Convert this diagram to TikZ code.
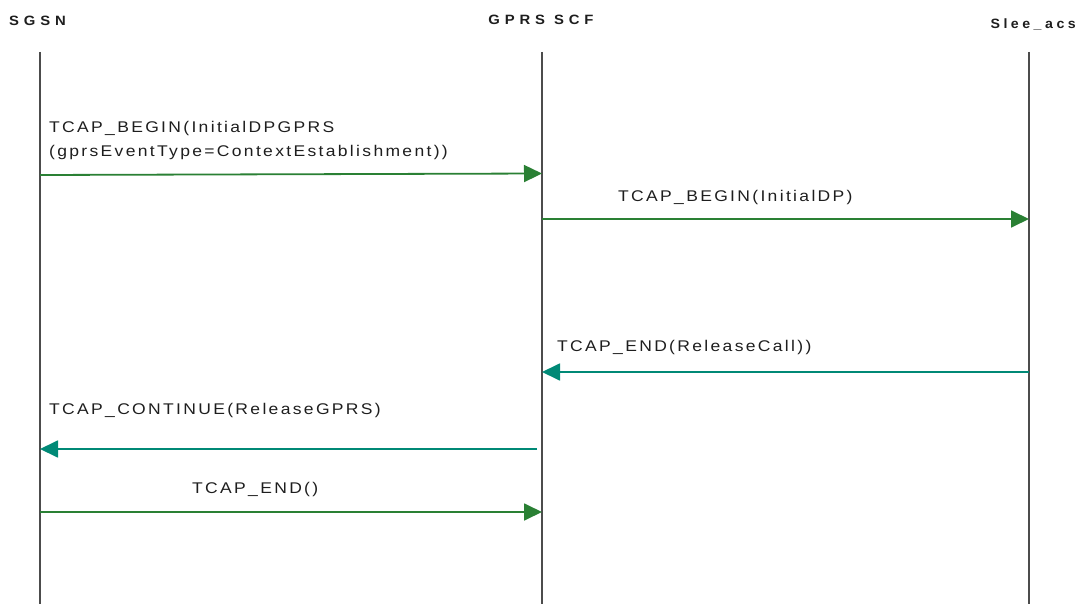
\documentclass[tikz,border=0pt]{standalone}
\usepackage{fontspec}
\setmainfont{Liberation Sans}
\newfontfamily\msgfont[LetterSpace=15,FakeStretch=1.13]{Liberation Sans}
\newfontfamily\hdrfont[LetterSpace=36,FakeStretch=1.1]{Liberation Sans Bold}
\newfontfamily\hdrfontb[LetterSpace=26,FakeStretch=1.05]{Liberation Sans Bold}
\usetikzlibrary{arrows.meta}
\definecolor{fwdgreen}{RGB}{42,128,52}
\definecolor{backteal}{RGB}{0,137,118}
\definecolor{txt}{RGB}{30,30,30}
\tikzset{
  lifeline/.style={line width=1.1pt, draw=black!70},
  hdr/.style={font=\hdrfont\fontsize{13.5}{15}\selectfont, text=txt, inner sep=0pt},
  hdrb/.style={font=\hdrfontb\fontsize{13.5}{15}\selectfont, text=txt, inner sep=0pt},
  lbl/.style={font=\msgfont\fontsize{15.5}{17}\selectfont, text=txt, inner sep=0pt, anchor=base west},
  fwd/.style={draw=fwdgreen, line width=1.8pt, -{Triangle[length=18pt,width=17pt]}},
  back/.style={draw=backteal, line width=1.8pt, -{Triangle[length=18pt,width=17pt]}}
}
\begin{document}
\begin{tikzpicture}[x=1pt,y=-1pt]
\useasboundingbox (0,0) rectangle (1079,604);
% headers
\node[hdr, anchor=base west] (hSGSN) at (9,26) {SGSN};
\node[hdr, anchor=base] (hSCF) at (541,25) {GPRS SCF};
\node[hdrb, anchor=base east] (hSLEE) at (1076,29) {Slee\_acs};
% lifelines
\coordinate (aT) at (40,52);  \coordinate (aB) at (40,604);
\coordinate (bT) at (542,52); \coordinate (bB) at (542,604);
\coordinate (cT) at (1029,52);\coordinate (cB) at (1029,604);
\draw[lifeline] (aT) -- (aB);
\draw[lifeline] (bT) -- (bB);
\draw[lifeline] (cT) -- (cB);
% message endpoints
\coordinate (m1s) at (40,175);  \coordinate (m1e) at (542,173.5);
\coordinate (m2s) at (542,219); \coordinate (m2e) at (1029,219);
\coordinate (m3s) at (1029,372);\coordinate (m3e) at (542,372);
\coordinate (m4s) at (537,449); \coordinate (m4e) at (40,449);
\coordinate (m5s) at (40,512);  \coordinate (m5e) at (542,512);
\draw[fwd] (m1s) -- (m1e);
\draw[fwd] (m2s) -- (m2e);
\draw[back] (m3s) -- (m3e);
\draw[back] (m4s) -- (m4e);
\draw[fwd] (m5s) -- (m5e);
% labels
\node[lbl] (l1a) at (49,133) {TCAP\_BEGIN(InitialDPGPRS};
\node[lbl] (l1b) at (49,157) {(gprsEventType=ContextEstablishment))};
\node[lbl] (l2) at (618,202) {TCAP\_BEGIN(InitialDP)};
\node[lbl] (l3) at (557,351) {TCAP\_END(ReleaseCall))};
\node[lbl] (l4) at (49,414) {TCAP\_CONTINUE(ReleaseGPRS)};
\node[lbl] (l5) at (192,493) {TCAP\_END()};
\end{tikzpicture}
\end{document}
